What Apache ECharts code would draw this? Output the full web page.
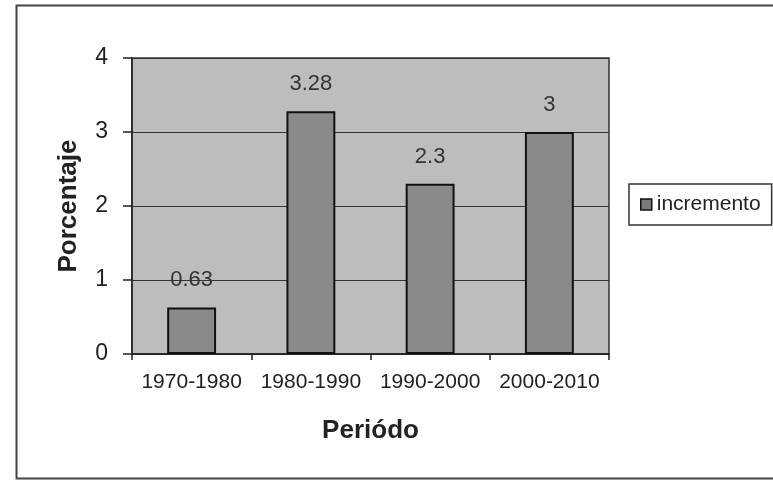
<!DOCTYPE html>
<html>
<head>
<meta charset="utf-8">
<script src="https://cdn.jsdelivr.net/npm/echarts@6/dist/echarts.min.js"></script>
<style>
  html, body { margin: 0; padding: 0; background: #fff; }
  #chart { width: 773px; height: 480px; }
</style>
</head>
<body>
<div id="chart"></div>
<script>
// Periods and percentage increase per decade
var periods = ['1970-1980', '1980-1990', '1990-2000', '2000-2010'];
var incremento = [0.63, 3.28, 2.3, 3];
var seriesName = 'incremento';

var font = 'Liberation Sans, Arial, sans-serif';
var chart = echarts.init(document.getElementById('chart'), null, { renderer: 'canvas' });

chart.setOption({
  animation: false,
  backgroundColor: '#ffffff',
  textStyle: { fontFamily: font, color: '#222' },
  graphic: [{
    type: 'rect',
    shape: { x: 16.5, y: 5.5, width: 800, height: 473 },
    style: { fill: 'none', stroke: '#444', lineWidth: 2 },
    silent: true
  }],
  grid: {
    left: 132, top: 58, right: 164, bottom: 126,
    show: true,
    backgroundColor: '#bdbdbd',
    borderColor: '#333',
    borderWidth: 1.5
  },
  legend: {
    left: 629, top: 184,
    orient: 'vertical',
    padding: [10, 11, 10, 11],
    borderColor: '#333',
    borderWidth: 1.5,
    backgroundColor: '#fff',
    itemWidth: 11, itemHeight: 11,
    icon: 'rect',
    textStyle: { fontFamily: font, fontSize: 21, color: '#222' },
    data: [{ name: seriesName, itemStyle: { color: '#7a7a7a', borderColor: '#111', borderWidth: 1.5 } }]
  },
  xAxis: {
    type: 'category',
    data: periods,
    name: 'Periódo',
    nameLocation: 'middle',
    nameGap: 64,
    nameTextStyle: { fontFamily: font, fontSize: 26, fontWeight: 'bold', color: '#222' },
    axisLine: { show: true, lineStyle: { color: '#222', width: 1.5 } },
    axisTick: { show: true, length: 6, lineStyle: { color: '#222', width: 1.5 } },
    axisLabel: { fontFamily: font, fontSize: 21, color: '#222', margin: 18, interval: 0 },
    splitLine: { show: false }
  },
  yAxis: {
    type: 'value',
    min: 0, max: 4, interval: 1,
    name: 'Porcentaje',
    nameLocation: 'middle',
    nameGap: 50,
    nameTextStyle: { fontFamily: font, fontSize: 26, fontWeight: 'bold', color: '#222' },
    axisLine: { show: true, lineStyle: { color: '#222', width: 1.5 } },
    axisTick: { show: true, length: 9, lineStyle: { color: '#222', width: 1.5 } },
    axisLabel: { fontFamily: font, fontSize: 23, color: '#222', margin: 24 },
    splitLine: { show: true, lineStyle: { color: '#333', width: 1 } }
  },
  series: [{
    name: seriesName,
    type: 'bar',
    data: incremento,
    barWidth: '41%',
    itemStyle: { color: '#8a8a8a', borderColor: '#111', borderWidth: 2 },
    label: {
      show: true,
      position: 'top',
      distance: 16,
      fontFamily: font,
      fontSize: 22,
      color: '#333'
    }
  }]
});
</script>
</body>
</html>
